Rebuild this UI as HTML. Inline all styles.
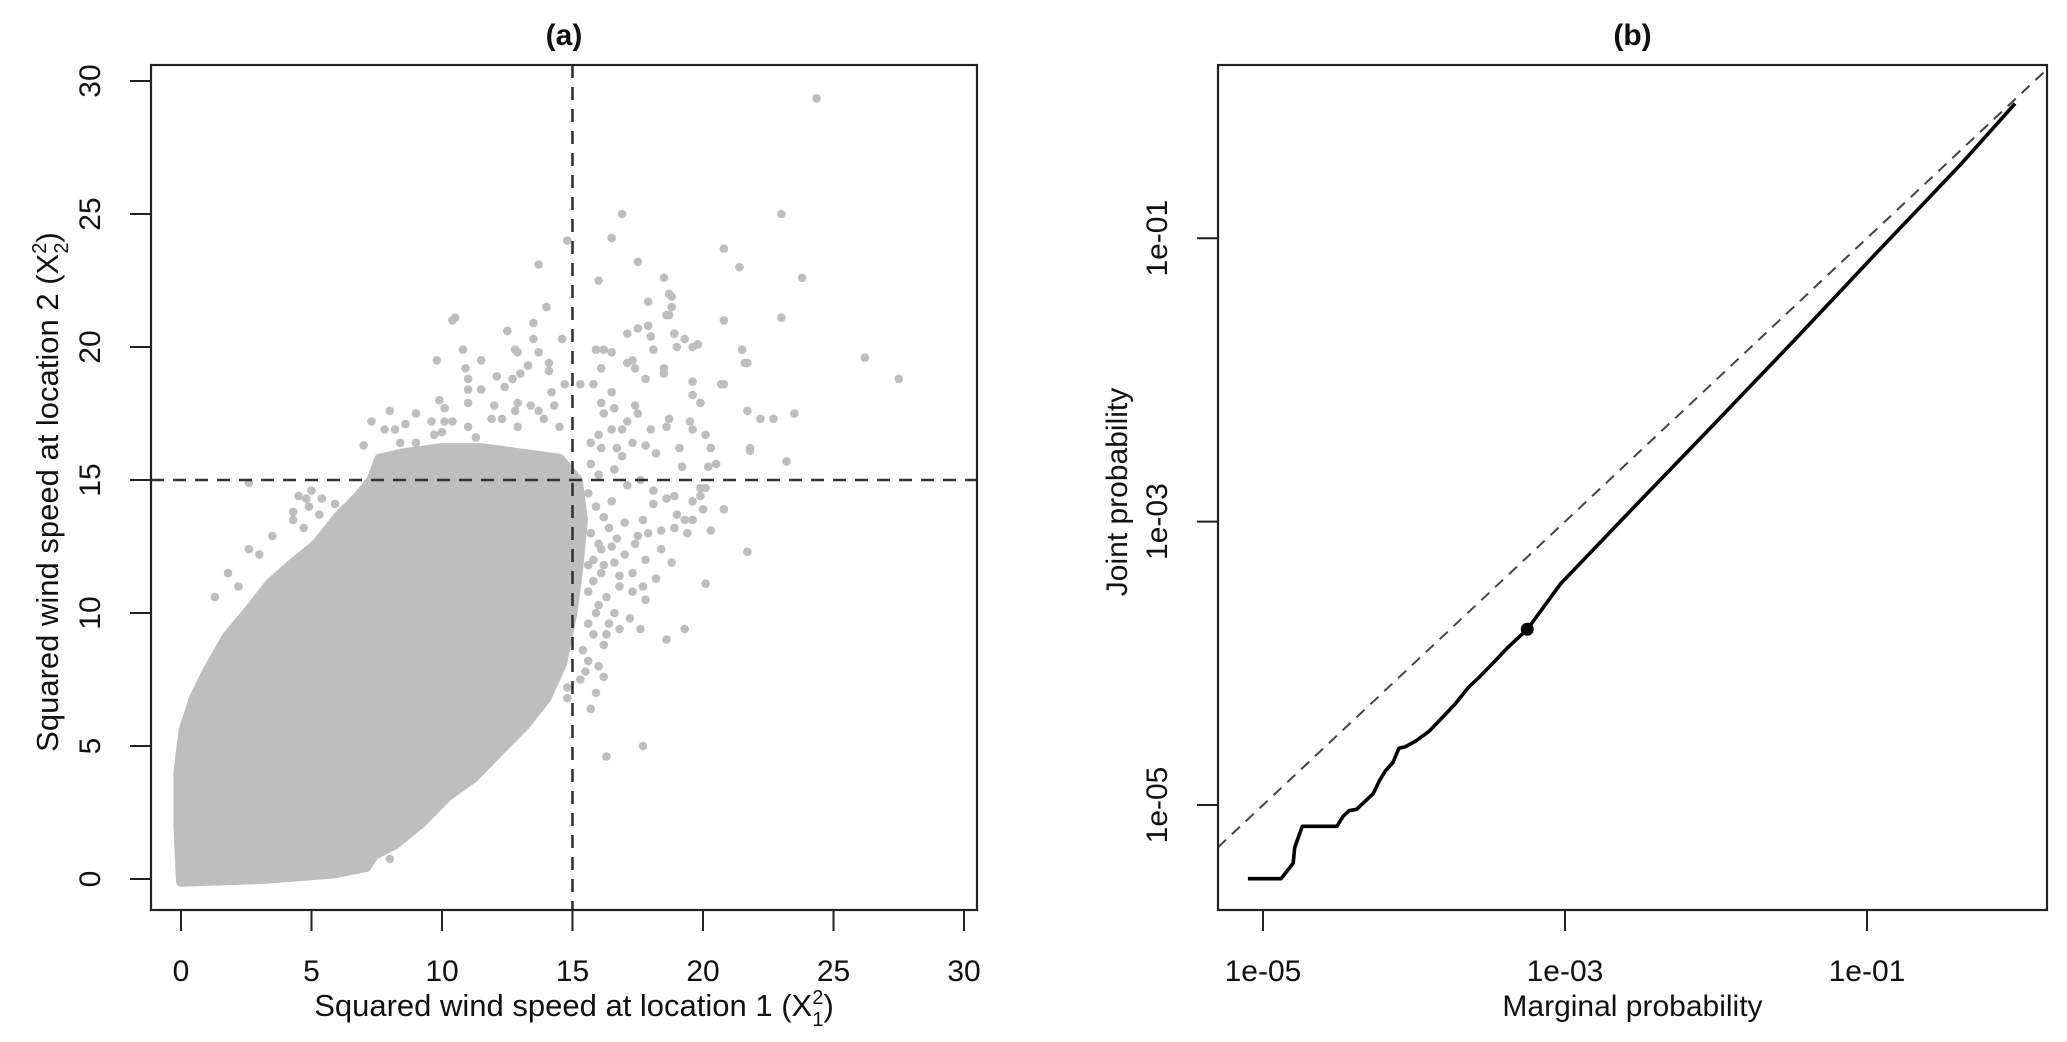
<!DOCTYPE html>
<html><head><meta charset="utf-8"><style>
html,body{margin:0;padding:0;background:#fff}
svg{display:block}
text{font-family:"Liberation Sans",Arial,sans-serif;fill:#111}
</style></head><body>
<svg id="fig" width="2067" height="1042" viewBox="0 0 2067 1042" xmlns="http://www.w3.org/2000/svg">
<g id="pa"></g>
<g id="pb"></g>
</svg>
<script>
// ---------- Panel (a) data ----------
const aTicks = [0, 5, 10, 15, 20, 25, 30];
const aThreshold = 15;
// boundary of dense point cloud (x, y)
const cloudX = [0,-0.1,-0.1,0.1,0.5,1.0,1.75,2.6,3.4,4.2,5.2,6.0,6.8,7.3,7.6,8.5,10,11.5,13,14.5,15.2,15.4,15.2,15.0,14.6,14.0,13.2,12.2,11.2,10.2,9.2,8.2,7.4,7.1,5.8,3.1,0];
const cloudY = [-0.1,2,4.0,5.6,6.8,7.8,9.1,10.1,11.1,11.8,12.6,13.6,14.4,15.0,15.8,16.0,16.2,16.2,16.0,15.8,15.0,13.5,11.5,10.0,8.1,6.8,5.8,4.8,3.8,3.1,2.1,1.3,0.9,0.45,0.2,0.0,-0.1];
// sparse points
const ptX = [24.35,23.0,16.9,14.8,16.5,13.7,17.5,20.8,21.4,23.8,18.5,16.0,14.0,18.8,18.8,10.4,20.8,23.0,17.9,19.6,21.5,26.2,27.5,21.7,20.7,22.7,21.7,23.5,23.2,21.8,20.2,19.9,20.0,20.1,19.3,21.7,17.7,16.3,14.8,8.0,
 18.7,18.7,18.9,18.6,12.5,13.5,13.5,14.6,17.5,17.1,17.9,18.0,18.1,19.3,19.0,19.8,21.6,15.9,16.2,16.5,12.9,13.7,14.1,17.1,17.3,16.1,17.4,18.5,18.5,17.8,19.6,20.8,19.6,19.9,22.2,19.5,19.6,20.1,20.3,20.5,21.8,19.1,19.2,18.7,18.6,18.0,17.8,18.2,17.4,17.1,16.9,17.5,16.5,16.1,15.8,15.3,16.6,16.2,16.5,16.0,15.7,16.1,16.7,17.3,
 20.1,19.9,19.6,20.8,20.3,19.6,19.0,18.9,18.4,19.4,18.6,18.1,17.7,17.5,16.5,17.0,16.2,17.3,16.8,15.8,17.8,18.2,16.0,16.6,17.2,15.6,16.3,17.6,15.4,16.0,15.3,14.8,18.6,17.8,18.8,19.3,
 10.5,12.5,14.6,10.8,9.8,11.5,12.8,10.9,11.0,11.0,11.0,12.1,12.4,12.7,13.0,13.3,11.5,12.9,14.1,14.2,14.7,9.9,10.1,10.1,10.4,8.0,9.0,9.6,7.3,7.0,7.8,8.2,8.6,8.4,9.0,9.7,10.0,12.0,12.3,12.8,13.4,13.7,14.3,11.0,11.3,11.9,12.9,13.9,14.5,8.3,2.6,4.5,5.0,5.4,4.8,4.9,4.3,4.3,4.7,5.3,5.9,3.5,2.6,3.0,1.8,2.2,1.3,
 15.6,15.9,16.2,15.7,16.0,16.4,15.8,16.1,16.7,17.0,16.5,15.6,15.9,16.3,16.8,17.4,17.1,16.6,15.7,16.0,16.9,17.6,18.1,17.3,15.8,16.2,15.6,15.5,15.9,16.4,17.9,18.4,16.2,15.7,16.8,17.7,18.9,15.6,16.1,16.6];
const ptY = [29.35,25.0,25.0,24.0,24.1,23.1,23.2,23.7,23.0,22.6,22.6,22.5,21.5,21.9,21.5,21.0,21.0,21.1,21.7,20.0,19.9,19.6,18.8,19.4,18.6,17.3,17.6,17.5,15.7,16.1,15.5,14.7,13.9,11.1,9.4,12.3,5.0,4.6,6.8,0.75,
 22.0,21.2,20.5,21.2,20.6,20.9,20.3,20.3,20.7,20.5,20.8,20.4,19.9,20.3,20.0,20.1,19.4,19.9,19.9,19.8,19.8,19.8,19.4,19.4,19.5,19.2,19.2,19.2,19.0,18.8,18.7,18.6,18.2,17.9,17.3,17.2,16.9,16.7,16.2,15.6,16.2,16.2,15.5,17.3,17.0,16.9,16.3,16.0,17.8,17.2,16.9,17.5,18.3,17.9,18.6,18.6,17.7,17.5,16.9,16.7,16.4,16.2,16.2,16.4,
 14.7,14.4,14.2,13.9,13.1,13.5,13.7,13.2,13.1,13.0,14.3,14.1,13.5,12.9,12.5,12.2,11.8,11.5,11.0,11.2,12.0,11.3,10.3,10.0,9.8,9.6,9.2,9.4,8.6,8.0,7.5,7.2,9.0,10.5,11.9,13.5,
 21.1,20.6,20.3,19.9,19.5,19.5,19.9,19.2,18.8,18.4,17.9,18.9,18.5,18.8,19.0,19.3,18.4,17.9,19.1,18.3,18.6,18.0,17.7,17.2,17.2,17.6,17.5,17.2,17.2,16.3,16.9,16.9,17.1,16.4,16.4,16.7,16.8,17.8,17.3,17.6,17.8,17.6,17.8,17.0,16.6,17.3,17.0,17.3,17.0,15.8,14.9,14.4,14.6,14.3,14.3,14.0,13.8,13.5,13.2,13.7,14.1,12.9,12.4,12.2,11.5,11.0,10.6,
 14.5,14.0,13.6,13.0,12.6,13.2,12.0,11.5,12.8,13.4,14.2,10.8,10.0,10.6,11.4,12.6,14.8,15.4,15.6,15.2,15.9,15.0,14.6,10.8,9.2,8.8,8.2,7.8,7.0,9.6,13.0,12.4,7.6,6.4,9.4,11.0,14.4,11.8,12.4,11.9];

// ---------- Panel (b) data (log10 values) ----------
const bTickLog = [-5, -3, -1];
const bTickLabels = ["1e-05", "1e-03", "1e-01"];
const refLineLog = [-5.298, 0.2];
const margLog = [-5.10,-4.88,-4.80,-4.79,-4.74,-4.51,-4.47,-4.43,-4.38,-4.34,-4.27,-4.23,-4.19,-4.14,-4.10,-4.06,-3.99,-3.90,-3.81,-3.73,-3.64,-3.57,-3.46,-3.38,-3.25,-3.03,-2.59,-2.02,-1.49,-0.96,-0.38,-0.17,-0.02];
const jointLog = [-5.52,-5.52,-5.41,-5.30,-5.15,-5.15,-5.08,-5.04,-5.03,-4.99,-4.92,-4.83,-4.76,-4.70,-4.60,-4.59,-4.55,-4.48,-4.38,-4.29,-4.17,-4.10,-3.98,-3.89,-3.76,-3.44,-2.95,-2.32,-1.73,-1.13,-0.48,-0.23,-0.05];
const markerLog = [-3.25, -3.76];

const NS = "http://www.w3.org/2000/svg";
function mk(parent, tag, attrs, txt) {
  const e = document.createElementNS(NS, tag);
  for (const k in attrs) e.setAttribute(k, attrs[k]);
  if (txt !== undefined) e.textContent = txt;
  parent.appendChild(e);
  return e;
}

// ===== Panel A =====
(function(){
  const g = document.getElementById('pa');
  const L=151,R=977,T=65,B=910;
  const X = v => 181 + 26.1*v;
  const Y = v => 879 - 26.6*v;
  const t = mk(g,'text',{x:(L+R)/2,y:45,'text-anchor':'middle','font-size':30,'font-weight':'bold'},'(a)');
   
  let d = cloudX.map((x,i)=>(i?'L':'M')+X(x).toFixed(1)+' '+Y(cloudY[i]).toFixed(1)).join(' ')+'Z';
  const cl = mk(g,'path',{d:d,fill:'#bebebe',stroke:'#bebebe','stroke-width':10,'stroke-linejoin':'round'});
   
  ptX.forEach((x,i)=>{
    const c = mk(g,'circle',{cx:X(x).toFixed(1),cy:Y(ptY[i]).toFixed(1),r:4.3,fill:'#bebebe'});
     
  });
  const hl = mk(g,'line',{x1:L,x2:R,y1:Y(aThreshold),y2:Y(aThreshold),stroke:'#333','stroke-width':2.6,'stroke-dasharray':'13 9'});
   
  const vl = mk(g,'line',{x1:X(aThreshold),x2:X(aThreshold),y1:T,y2:B,stroke:'#333','stroke-width':2.6,'stroke-dasharray':'13 9'});
   
  const bx = mk(g,'rect',{x:L,y:T,width:R-L,height:B-T,fill:'none',stroke:'#222','stroke-width':2.2});
   
  aTicks.forEach(v=>{
    const tk = mk(g,'line',{x1:X(v),x2:X(v),y1:B,y2:B+21,stroke:'#222','stroke-width':2});
     
    const tl = mk(g,'text',{x:X(v),y:981,'text-anchor':'middle','font-size':30},String(v));
     
    const ty = mk(g,'line',{x1:L-21,x2:L,y1:Y(v),y2:Y(v),stroke:'#222','stroke-width':2});
     
    const yl = mk(g,'text',{x:0,y:0,'text-anchor':'middle','font-size':30,transform:`translate(100,${Y(v)}) rotate(-90)`},String(v));
     
  });
  const xt = mk(g,'text',{x:(L+R)/2+10,y:1016,'text-anchor':'middle','font-size':31});
  xt.innerHTML = 'Squared wind speed at location 1 (X<tspan font-size="20" dy="-12">2</tspan><tspan font-size="20" dx="-11" dy="22">1</tspan><tspan dy="-10">)</tspan>';
   
  const yt = mk(g,'text',{x:0,y:0,'text-anchor':'middle','font-size':31,transform:'translate(58,492) rotate(-90)'});
  yt.innerHTML = 'Squared wind speed at location 2 (X<tspan font-size="20" dy="-12">2</tspan><tspan font-size="20" dx="-11" dy="22">2</tspan><tspan dy="-10">)</tspan>';
   
})();

// ===== Panel B =====
(function(){
  const g = document.getElementById('pb');
  const L=1218,R=2047,T=65,B=910;
  const X = lv => 1263 + 151*(lv+5);
  const Y = lv => 805 - 141.7*(lv+5);
  const t = mk(g,'text',{x:(L+R)/2,y:45,'text-anchor':'middle','font-size':30,'font-weight':'bold'},'(b)');
   
  const dl = mk(g,'line',{x1:X(refLineLog[0]),y1:Y(refLineLog[0]),x2:X(refLineLog[1]),y2:Y(refLineLog[1]),stroke:'#444','stroke-width':2,'stroke-dasharray':'11 8'});
   
  const d = margLog.map((x,i)=>(i?'L':'M')+X(x).toFixed(1)+' '+Y(jointLog[i]).toFixed(1)).join(' ');
  const ln = mk(g,'path',{d:d,fill:'none',stroke:'#000','stroke-width':3.6,'stroke-linejoin':'round'});
   
  const mkr = mk(g,'circle',{cx:X(markerLog[0]),cy:Y(markerLog[1]),r:6.5,fill:'#000'});
   
  const bx = mk(g,'rect',{x:L,y:T,width:R-L,height:B-T,fill:'none',stroke:'#222','stroke-width':2.2});
   
  bTickLog.forEach((v,i)=>{
    const tk = mk(g,'line',{x1:X(v),x2:X(v),y1:B,y2:B+21,stroke:'#222','stroke-width':2});
     
    const tl = mk(g,'text',{x:X(v),y:981,'text-anchor':'middle','font-size':30},bTickLabels[i]);
     
    const ty = mk(g,'line',{x1:L-21,x2:L,y1:Y(v),y2:Y(v),stroke:'#222','stroke-width':2});
     
    const yl = mk(g,'text',{x:0,y:0,'text-anchor':'middle','font-size':30,transform:`translate(1167,${Y(v)}) rotate(-90)`},bTickLabels[i]);
     
  });
  const xt = mk(g,'text',{x:(L+R)/2,y:1016,'text-anchor':'middle','font-size':30},'Marginal probability');
   
  const yt = mk(g,'text',{x:0,y:0,'text-anchor':'middle','font-size':30,transform:'translate(1127,492) rotate(-90)'},'Joint probability');
   
})();
</script>
</body></html>
